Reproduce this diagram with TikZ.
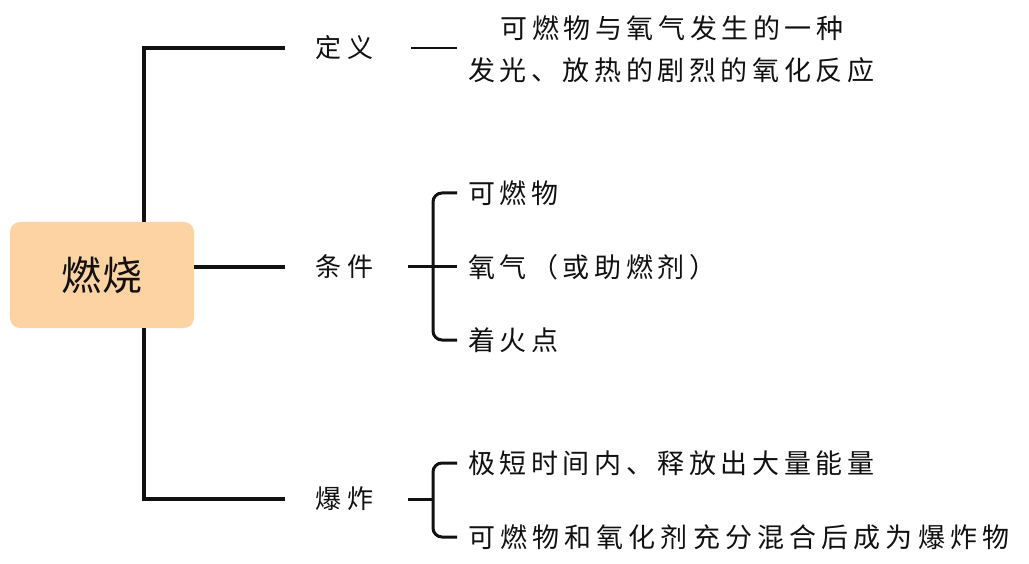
\documentclass[tikz,border=0pt]{standalone}
\usepackage{fontspec}
\newfontfamily\cjk[LetterSpace=17]{Noto Sans CJK SC}
\newfontfamily\cjklong[LetterSpace=19]{Noto Sans CJK SC}
\newfontfamily\cjkwide[LetterSpace=24]{Noto Sans CJK SC}
\newfontfamily\cjkbig[LetterSpace=4]{Noto Sans CJK SC}
\definecolor{peach}{HTML}{FDD3A4}
\definecolor{ink}{HTML}{111111}
\begin{document}
\begin{tikzpicture}[x=1bp,y=-1bp,
  mainline/.style={line width=4.5bp,draw=ink},
  subline/.style={line width=3bp,draw=ink,rounded corners=9bp},
  txt/.style={inner sep=0pt,font=\fontsize{27bp}{30bp}\cjk,text=ink},
  txtlong/.style={inner sep=0pt,font=\fontsize{27bp}{30bp}\cjklong,text=ink},
  lbl/.style={inner sep=0pt,font=\fontsize{26bp}{30bp}\cjkwide,text=ink},
  rootbox/.style={fill=peach,rounded corners=10bp,minimum width=184bp,minimum height=106bp,inner sep=0pt,font=\fontsize{40bp}{44bp}\cjkbig,text=ink}]
\useasboundingbox[fill=white] (0,0) rectangle (1029,564);
% root
\node[rootbox] (root) at (102,275) {燃烧};
% level-1 labels
\node[lbl,anchor=west] (def) at (315,48) {定义};
\node[lbl,anchor=west] (cond) at (315,267) {条件};
\node[lbl,anchor=west] (expl) at (315,499) {爆炸};
% main connectors
\coordinate (tl) at (144,48);
\coordinate (bl) at (144,499);
\coordinate (tend) at (285,48);
\coordinate (mend) at (285,267);
\coordinate (bend) at (285,499);
\draw[mainline] (root.north -| tl) -- (tl) -- (tend);
\draw[mainline] (root.south -| bl) -- (bl) -- (bend);
\draw[mainline] (root.east |- mend) -- (mend);
% definition
\coordinate (d1) at (411,48);
\coordinate (d2) at (457,48);
\draw[line width=2.5bp,draw=ink] (d1) -- (d2);
\node[txt,anchor=center] (dtxt1) at (672,28) {可燃物与氧气发生的一种};
\node[txt,anchor=west] (dtxt2) at (468,70) {发光、放热的剧烈的氧化反应};
% conditions
\node[txt,anchor=west] (c1) at (468,193) {可燃物};
\node[txt,anchor=west] (c2) at (468,267) {氧气（或助燃剂）};
\node[txt,anchor=west] (c3) at (468,340) {着火点};
\coordinate (cs) at (408,267);
\coordinate (cv) at (433,267);
\draw[subline] (cs) -- (cv |- c2) -- (457,267);
\draw[subline] (457,193) -- (433,193) -- (433,340) -- (457,340);
% explosion
\node[txt,anchor=west] (e1) at (468,463) {极短时间内、释放出大量能量};
\node[txtlong,anchor=west] (e2) at (468,537) {可燃物和氧化剂充分混合后成为爆炸物};
\coordinate (es) at (408,499);
\coordinate (ev) at (433,499);
\draw[subline] (es) -- (ev);
\draw[subline] (457,463) -- (433,463) -- (433,537) -- (457,537);
\end{tikzpicture}
\end{document}
